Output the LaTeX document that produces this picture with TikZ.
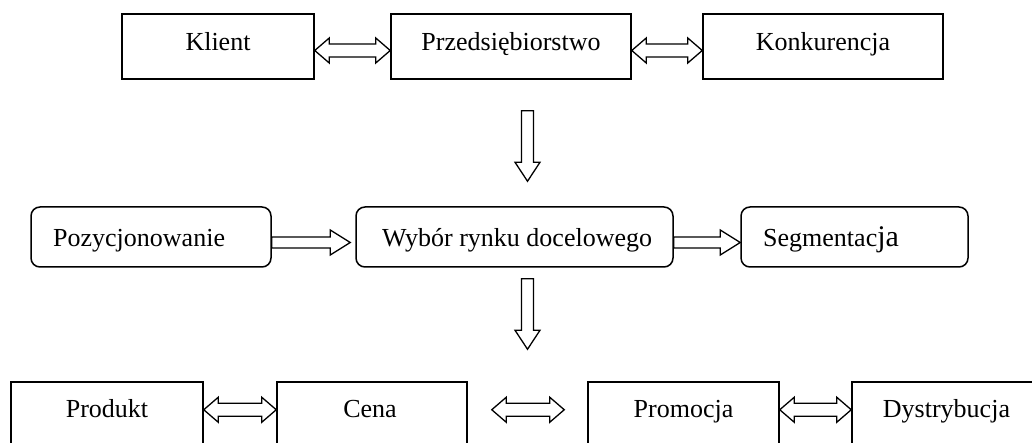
\documentclass[tikz,border=0pt]{standalone}
\usepackage{fontspec}
\setmainfont{Liberation Serif}
\usetikzlibrary{calc}
\tikzset{
  boxs/.style={draw, line width=1.5pt, rectangle, inner sep=0pt},
  rbox/.style={boxs, rounded corners=9pt},
  txt/.style={inner sep=0pt, font=\fontsize{26}{30}\selectfont},
  blk/.style={draw, line width=1.3pt, fill=white, line join=miter},
}
% right-pointing block arrow: start, end
\newcommand\blkR[2]{%
  \path[blk] let \p1=#1, \p2=#2 in
   (\x1,\y1+5.5pt) -- (\x2-20pt,\y1+5.5pt) -- (\x2-20pt,\y1+12.5pt) -- (\x2,\y1)
   -- (\x2-20pt,\y1-12.5pt) -- (\x2-20pt,\y1-5.5pt) -- (\x1,\y1-5.5pt) -- cycle;}
% double-headed block arrow
\newcommand\blkLR[2]{%
  \path[blk] let \p1=#1, \p2=#2 in
   (\x1,\y1) -- (\x1+14.5pt,\y1+12.5pt) -- (\x1+14.5pt,\y1+6.5pt) -- (\x2-14.5pt,\y1+6.5pt)
   -- (\x2-14.5pt,\y1+12.5pt) -- (\x2,\y1) -- (\x2-14.5pt,\y1-12.5pt) -- (\x2-14.5pt,\y1-6.5pt)
   -- (\x1+14.5pt,\y1-6.5pt) -- (\x1+14.5pt,\y1-12.5pt) -- cycle;}
% down-pointing block arrow
\newcommand\blkD[2]{%
  \path[blk] let \p1=#1, \p2=#2 in
   (\x1-6pt,\y1) -- (\x1-6pt,\y2+19pt) -- (\x1-12.5pt,\y2+19pt) -- (\x1,\y2)
   -- (\x1+12.5pt,\y2+19pt) -- (\x1+6pt,\y2+19pt) -- (\x1+6pt,\y1) -- cycle;}
\begin{document}
\begin{tikzpicture}[x=1pt,y=-1pt]
\useasboundingbox (0,0) rectangle (1032,443);
\clip (0,0) rectangle (1032,443);
% top row
\node[boxs, minimum width=192pt, minimum height=65pt] (kl) at (218,46.5) {};
\node[boxs, minimum width=240pt, minimum height=65pt] (pr) at (511,46.5) {};
\node[boxs, minimum width=240pt, minimum height=65pt] (ko) at (823,46.5) {};
\node[txt, anchor=base] (klt) at (218,51) {Klient};
\node[txt, anchor=base] (prt) at (511,51) {Przedsiębiorstwo};
\node[txt, anchor=base] (kot) at (823,51) {Konkurencja};
% middle row
\node[rbox, minimum width=240pt, minimum height=60pt] (poz) at (151,237) {};
\node[rbox, minimum width=317pt, minimum height=60pt] (wyb) at (514.5,237) {};
\node[rbox, minimum width=227pt, minimum height=60pt] (seg) at (854.5,237) {};
\node[txt, anchor=base west] (pozt) at (53,247) {Pozycjonowanie};
\node[txt, anchor=base west] (wybt) at (382,247) {Wybór rynku docelowego};
\node[txt, anchor=base west] (segt) at (763,247) {Segmentac{\fontsize{30}{30}\selectfont ja}};
% bottom row
\node[boxs, minimum width=192pt, minimum height=90pt] (pro) at (107,427) {};
\node[boxs, minimum width=190pt, minimum height=90pt] (cen) at (372,427) {};
\node[boxs, minimum width=191pt, minimum height=90pt] (prm) at (683.5,427) {};
\node[boxs, minimum width=190pt, minimum height=90pt] (dys) at (947,427) {};
\node[txt, anchor=base] (prot) at (107,417) {Produkt};
\node[txt, anchor=base] (cent) at (370,417) {Cena};
\node[txt, anchor=base] (prmt) at (683.5,417) {Promocja};
\node[txt, anchor=base] (dyst) at (946.5,417) {Dystrybucja};
% free ends of the vertical arrows
\coordinate (d1s) at ($(pr.south)+(16.5,31)$);
\coordinate (d1e) at ($(wyb.north)+(13,-25)$);
\coordinate (d2s) at ($(wyb.south)+(13,11)$);
\coordinate (d2e) at ($(pro.north -| wyb.south)+(13,-32)$);
% arrows
\blkLR{($(kl.east)+(0,4)$)}{(pr.west)}
\blkLR{($(pr.east)+(0,4)$)}{(ko.west)}
\blkD{(d1s)}{(d1e)}
\blkR{($(poz.east)+(0,5.5)$)}{($(wyb.west)+(-5,0)$)}
\blkR{($(wyb.east)+(0,5.5)$)}{(seg.west)}
\blkD{(d2s)}{(d2e)}
\blkLR{($(pro.north east)+(0,28.5)$)}{(cen.west)}
\blkLR{($(cen.north east)+(24,28.5)$)}{($(prm.west)+(-23,0)$)}
\blkLR{($(prm.north east)+(0,28.5)$)}{(dys.west)}
\end{tikzpicture}
\end{document}
